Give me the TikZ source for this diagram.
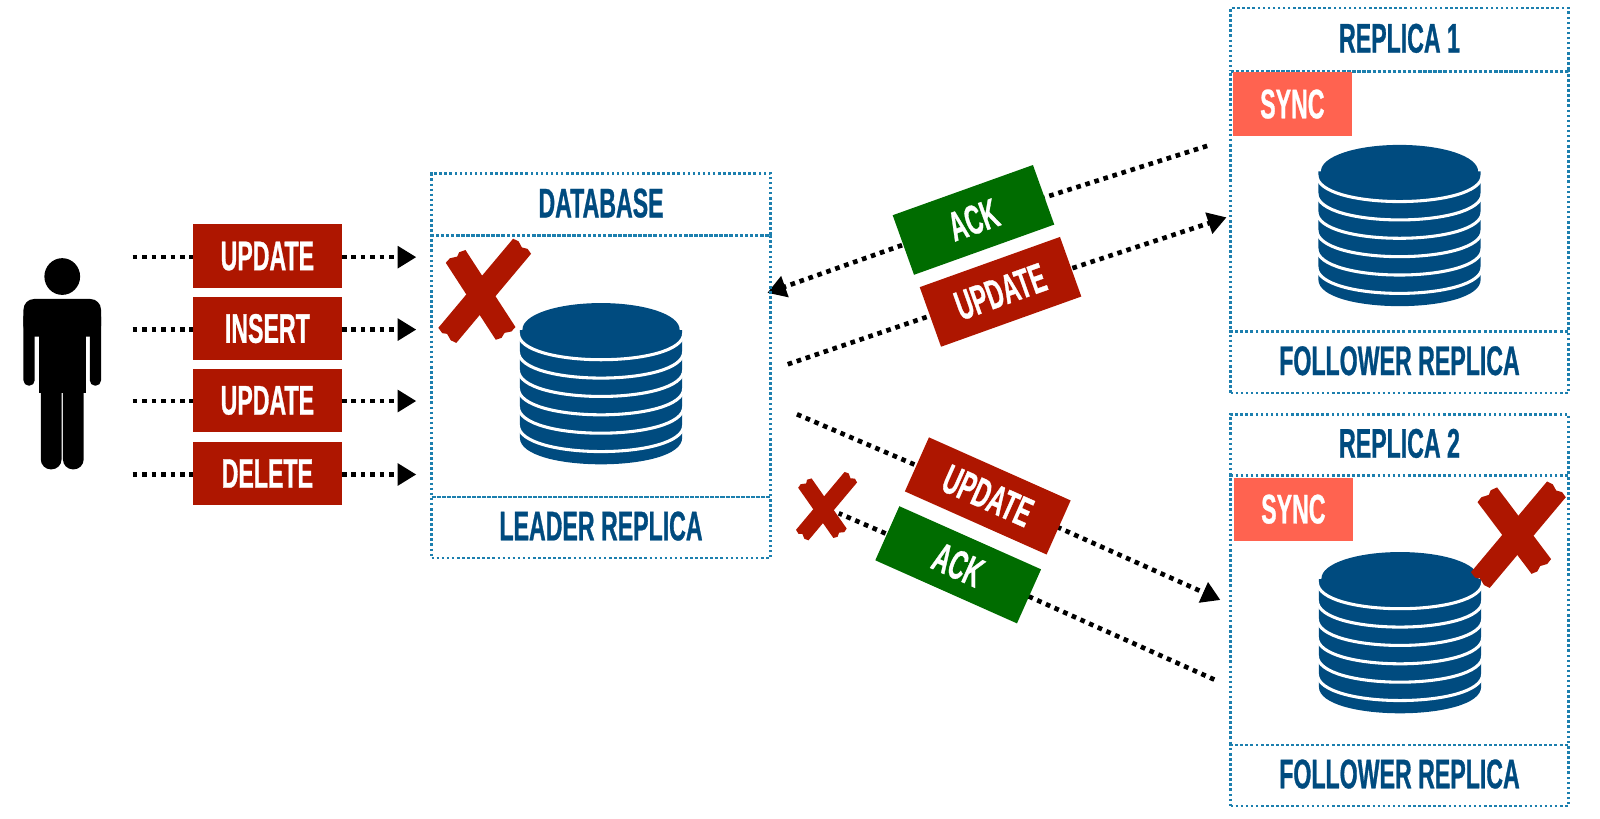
\documentclass[tikz,border=0pt]{standalone}
\usepackage{fontspec}
\setmainfont{Liberation Sans}[FakeStretch=0.56,BoldFeatures={FakeBold=0.7}]
\usetikzlibrary{arrows.meta,backgrounds}
\definecolor{navy}{HTML}{004B7F}
\definecolor{dbblue}{HTML}{004B7F}
\definecolor{redbox}{HTML}{AE1600}
\definecolor{greenbox}{HTML}{006C00}
\definecolor{syncbox}{HTML}{FF6350}
\definecolor{dotblue}{HTML}{1C7FAE}
\newcommand{\UU}[1]{#1*0.7653pt}
\newcommand{\crossbar}[4]{% centre, angle, half length, half width
  \begin{scope}[shift={(#1)},rotate=#2]
    \fill[redbox] (-#3,-#4) -- (-#3-1.5,-#4*0.45) -- (-#3+1,-#4*0.1) -- (-#3-1.5,#4*0.5) -- (-#3,#4)
      -- (#3,#4) -- (#3+1.5,#4*0.5) -- (#3-1,#4*0.05) -- (#3+1.5,-#4*0.5) -- (#3,-#4) -- cycle;
  \end{scope}}
\tikzset{
  x=0.7653pt,y=-0.7653pt,
  every node/.style={font=\bfseries\fontsize{31}{33}\selectfont,inner sep=0pt,outer sep=0pt},
  sect/.style={draw=dotblue,line width=1.9pt,dash pattern=on 1.9pt off 1.9pt,text=navy,anchor=center,fill=none,text depth=2.5pt},
  redlabel/.style={fill=redbox,text=white,minimum width=\UU{146},minimum height=\UU{62}},
  greenlabel/.style={fill=greenbox,text=white,minimum width=\UU{146},minimum height=\UU{62}},
  synclabel/.style={fill=syncbox,text=white,minimum width=\UU{117},minimum height=\UU{62}},
  dots/.style={draw=black,line width=3.5pt,dash pattern=on 3.5pt off 3.6pt},
  flow/.style={dots,-{Triangle[length=14pt,width=16pt]}},
  dbstack/.pic={
    \fill[dbblue] (-79.5,26) -- (79.5,26) -- (79.5,132) .. controls (79.5,166.7) and (-79.5,166.7) .. (-79.5,132) -- cycle;
    \foreach \yy in {29.5,47.5,65.5,83.5,101.5,119.5}{
      \draw[white,line width=2.3pt] (-81,\yy) .. controls (-81,\yy+34.7) and (81,\yy+34.7) .. (81,\yy);
    }
    \fill[white] (-81,20) rectangle (81,26);
    \fill[dbblue] (0,0) .. controls (42,0) and (77,11) .. (77,26) .. controls (77,41) and (42,52) .. (0,52) .. controls (-42,52) and (-77,41) .. (-77,26) .. controls (-77,11) and (-42,0) .. (0,0) -- cycle;
  }
}
\begin{document}
\begin{tikzpicture}
\useasboundingbox (0,0) rectangle (1568,802);
% person
\fill[black] (61,271) ellipse[x radius=17.5,y radius=18];
\fill[black,rounded corners=8pt] (23,330) -- (23,293) -- (99,293) -- (99,330) -- cycle;
\fill[black] (34,312) rectangle (88,325);
\fill[black,rounded corners=4pt] (23,305) rectangle (34,378);
\fill[black,rounded corners=4pt] (88,305) rectangle (99,378);
\fill[black] (38,312) rectangle (84,385);
\fill[black,rounded corners=7.5pt] (40,370) rectangle (60.3,460);
\fill[black,rounded corners=7.5pt] (61.7,370) rectangle (82,460);
\fill[black] (40,370) rectangle (82,384);
% request labels
\node[redlabel] (u1) at (262,251) {UPDATE};
\node[redlabel] (i1) at (262,322) {INSERT};
\node[redlabel] (u2) at (262,392.5) {UPDATE};
\node[redlabel] (d1) at (262,464) {DELETE};
\coordinate (u1a) at (130,252); \coordinate (u1b) at (408,252);
\coordinate (i1a) at (130,323); \coordinate (i1b) at (408,323);
\coordinate (u2a) at (130,393); \coordinate (u2b) at (408,393);
\coordinate (d1a) at (130,465); \coordinate (d1b) at (408,465);
\foreach \n in {u1,i1,u2,d1}{
  \draw[dots] (\n a) -- (\n a -| \n.west);
  \draw[flow] (\n b -| \n.east) -- (\n b);
}
% leader box
\node[sect,minimum width=\UU{332},minimum height=\UU{61}] (dbtitle) at (589,200.5) {DATABASE};
\node[sect,minimum width=\UU{332},minimum height=\UU{256}] (dbbody) at (589,359) {};
\node[sect,minimum width=\UU{332},minimum height=\UU{60}] (dbfoot) at (589,517) {LEADER REPLICA};
\pic at (589,297) {dbstack};
\crossbar{475,285}{50}{57}{11.5}
\crossbar{471,289}{-57}{45}{11.5}
% replica 1
\node[sect,minimum width=\UU{331},minimum height=\UU{62}] (r1title) at (1371.5,39) {REPLICA 1};
\node[sect,minimum width=\UU{331},minimum height=\UU{255}] (r1body) at (1371.5,197.5) {};
\node[sect,minimum width=\UU{331},minimum height=\UU{60}] (r1foot) at (1371.5,355) {FOLLOWER REPLICA};
\node[synclabel] (s1) at (1266.5,102) {SYNC};
\pic at (1371.5,142) {dbstack};
% replica 2
\node[sect,minimum width=\UU{331},minimum height=\UU{60}] (r2title) at (1371.5,436) {REPLICA 2};
\node[sect,minimum width=\UU{331},minimum height=\UU{264}] (r2body) at (1371.5,598) {};
\node[sect,minimum width=\UU{331},minimum height=\UU{60}] (r2foot) at (1371.5,760) {FOLLOWER REPLICA};
\node[synclabel] (s2) at (1267.5,499) {SYNC};
\pic at (1372,541) {dbstack};
\crossbar{1488,524}{50}{58}{12}
\crossbar{1484,520}{-53}{44}{12}
% sloped labels
\node[greenlabel,rotate=19.7] (ack1) at (954,215.5) {ACK};
\node[redlabel,rotate=19.7] (up1) at (980.5,286) {UPDATE};
\node[redlabel,rotate=-24,minimum width=\UU{152},minimum height=\UU{58}] (up2) at (968,486) {UPDATE};
\node[greenlabel,rotate=-24,minimum width=\UU{152},minimum height=\UU{58}] (ack2) at (939,553.5) {ACK};
\coordinate (ack1a) at (1183,143); \coordinate (ack1b) at (752,287);
\coordinate (up1a) at (772,357); \coordinate (up1b) at (1202,213);
\coordinate (up2a) at (781,406); \coordinate (up2b) at (1196,588);
\coordinate (ack2a) at (1190,666); \coordinate (ack2b) at (822,503);
\begin{scope}[on background layer]
\draw[dots] (ack1a) -- (ack1.center);
\draw[flow] (ack1.center) -- (ack1b);
\draw[dots] (up1a) -- (up1.center);
\draw[flow] (up1.center) -- (up1b);
\draw[dots] (up2a) -- (up2.center);
\draw[flow] (up2.center) -- (up2b);
\draw[dots] (ack2a) -- (ack2.center) -- (ack2b);
\end{scope}
% small cross
\crossbar{810,496}{50}{37}{8}
\crossbar{806,498}{-55}{30}{8}
\end{tikzpicture}
\end{document}
